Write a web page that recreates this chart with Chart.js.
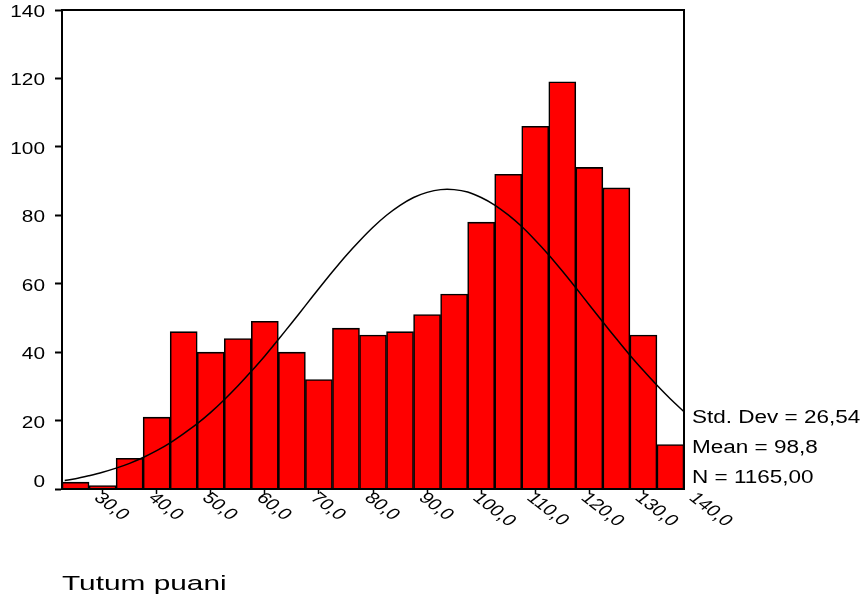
<!DOCTYPE html>
<html>
<head>
<meta charset="utf-8">
<script src="https://cdn.jsdelivr.net/npm/chart.js@4.4.0/dist/chart.umd.min.js"></script>
<style>
  html, body { margin: 0; padding: 0; background: #fff; }
  #wrap { width: 866px; height: 603px; position: relative; }
</style>
</head>
<body>
<div id="wrap"><canvas id="myChart"></canvas></div>
<script>
// histogram bins (midpoints, width 5) and counts
const binMids = [30, 35, 40, 45, 50, 55, 60, 65, 70, 75, 80, 85, 90, 95, 100, 105, 110, 115, 120, 125, 130, 135, 140];
const counts = [2, 1, 9, 21, 46, 40, 44, 49, 40, 32, 47, 45, 46, 51, 57, 78, 92, 106, 119, 94, 88, 45, 13];

// normal curve
const curveX = [28, 30, 32.5, 35, 37.5, 40, 42.5, 45, 47.5, 50, 52.5, 55, 57.5, 60, 62.5, 65, 67.5, 70, 72.5, 75,
    77.5, 80, 82.5, 85, 87.5, 90, 92.5, 95, 97.5, 100, 102.5, 105, 107.5, 110, 112.5, 115, 117.5, 120, 122.5, 125,
    127.5, 130, 132.5, 135, 137.5, 140, 142.5];
const curveY = [2.5, 3.0, 3.9, 4.9, 6.1, 7.5, 9.2, 11.2, 13.5, 16.2, 19.1, 22.4, 26.1, 30.1, 34.4, 38.9, 43.7, 48.6, 53.6, 58.6,
    63.5, 68.2, 72.5, 76.5, 80.0, 82.9, 85.2, 86.7, 87.5, 87.5, 86.8, 85.2, 83.0, 80.1, 76.7, 72.7, 68.4, 63.7, 58.8, 53.8,
    48.8, 43.9, 39.1, 34.6, 30.3, 26.3, 22.6];

// axis ticks and texts
const xTicks = [30, 40, 50, 60, 70, 80, 90, 100, 110, 120, 130, 140];
const yTicks = [0, 20, 40, 60, 80, 100, 120, 140];
const statLines = ['Std. Dev = 26,54', 'Mean = 98,8', 'N = 1165,00'];
const xTitle = 'Tutum puani';

const FONT = '"Liberation Sans", Arial, sans-serif';
const STRETCH = 1.3; // the original picture is stretched sideways

function wideText(ctx, txt, x, y, size, align, stretch) {
    ctx.save();
    ctx.font = size + 'px ' + FONT;
    ctx.fillStyle = '#000';
    ctx.textBaseline = 'alphabetic';
    let w = ctx.measureText(txt).width * stretch;
    let x0 = align === 'right' ? x - w : x;
    ctx.translate(x0, y);
    ctx.scale(stretch, 1);
    ctx.fillText(txt, 0, 0);
    ctx.restore();
}

// texts and frame drawn by hand (SPSS look)
const spssPlugin = {
    id: 'spss',
    afterDraw(chart) {
        const ctx = chart.ctx;
        const area = chart.chartArea;
        const xs = chart.scales.x;
        const ys = chart.scales.y;

        // frame
        ctx.save();
        ctx.strokeStyle = '#000';
        ctx.lineWidth = 2;
        ctx.strokeRect(area.left, area.top, area.right - area.left, area.bottom - area.top);
        ctx.restore();

        // y labels (the 0 is kept above the x axis)
        yTicks.forEach(v => {
            let base = Math.min(ys.getPixelForValue(v) + 7, area.bottom - 2);
            wideText(ctx, String(v), area.left - 17, base, 16, 'right', STRETCH);
        });

        // x labels, rotated
        xTicks.forEach(v => {
            const px = xs.getPixelForValue(v);
            ctx.save();
            ctx.font = '16px ' + FONT;
            ctx.fillStyle = '#000';
            ctx.textBaseline = 'top';
            ctx.translate(px + 29, area.bottom + 1);
            ctx.scale(STRETCH, 1);
            ctx.rotate(Math.PI / 4);
            ctx.fillText(v.toFixed(1).replace('.', ','), 0, 0);
            ctx.restore();
        });

        // stats
        statLines.forEach((s, i) => {
            wideText(ctx, s, area.right + 8, 423 + i * 30, 18, 'left', 1.25);
        });

        // axis title
        wideText(ctx, xTitle, 62, 590, 21, 'left', 1.42);
    }
};

const ctx = document.getElementById('myChart');
const myChart = new Chart(ctx, {
    type: 'bar',
    data: {
        datasets: [{
            type: 'line',
            data: curveX.map((x, i) => ({x: x, y: curveY[i]})),
            borderColor: '#000',
            borderWidth: 1.5,
            pointRadius: 0,
            tension: 0.3,
            fill: false,
            order: 0
        }, {
            type: 'bar',
            data: binMids.map((x, i) => ({x: x, y: counts[i]})),
            backgroundColor: '#ff0000',
            borderColor: '#000',
            borderWidth: 1.6,
            barPercentage: 1,
            categoryPercentage: 1,
            order: 1
        }]
    },
    options: {
        responsive: true,
        maintainAspectRatio: false,
        animation: false,
        layout: { padding: { left: 0, right: 182, top: 10, bottom: 0 } },
        plugins: {
            legend: { display: false },
            tooltip: { enabled: false }
        },
        scales: {
            x: {
                type: 'linear',
                min: 27.5,
                max: 142.5,
                offset: false,
                afterBuildTicks: (scale) => { scale.ticks = xTicks.map(v => ({value: v})); },
                afterFit: (scale) => { scale.height = 114; },
                ticks: { display: false },
                grid: { drawOnChartArea: false, drawTicks: true, tickLength: 5, tickWidth: 1.5, tickColor: '#000' },
                border: { color: '#000', width: 2 }
            },
            y: {
                min: 0,
                max: 140,
                afterBuildTicks: (scale) => { scale.ticks = yTicks.map(v => ({value: v})); },
                afterFit: (scale) => { scale.width = 62; },
                ticks: { display: false },
                grid: { drawOnChartArea: false, drawTicks: true, tickLength: 7, tickWidth: 2, tickColor: '#000' },
                border: { color: '#000', width: 2 }
            }
        }
    },
    plugins: [spssPlugin]
});
</script>
</body>
</html>
